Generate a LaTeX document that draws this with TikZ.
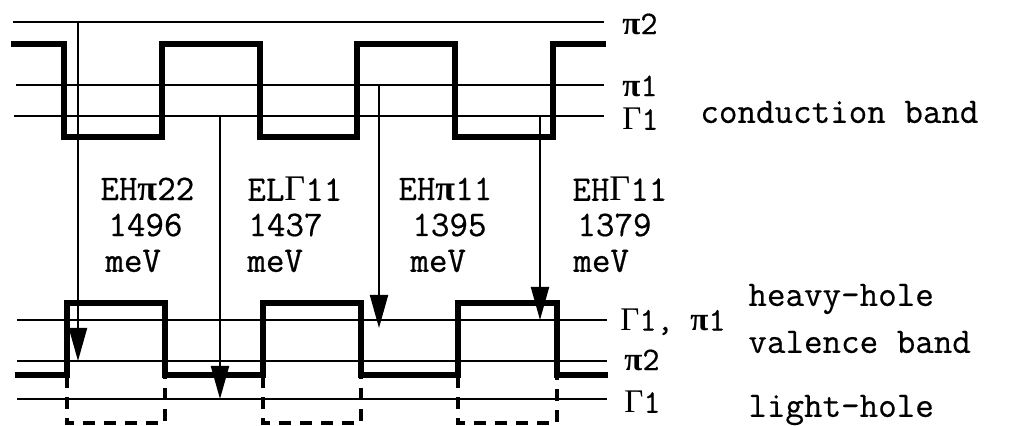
\documentclass[tikz,border=0pt]{standalone}
\usepackage{fontspec}
\newfontfamily\tw{Latin Modern Mono}[FakeBold=0.5]
\newfontfamily\grk{Liberation Serif}
\usetikzlibrary{arrows.meta}
\newcommand{\gpi}{{\grk\bfseries π}}
\newcommand{\gGa}{{\grk Γ}}
\begin{document}
\begin{tikzpicture}[x=0.5pt,y=-0.5pt,
  level/.style={line width=1pt},
  wave/.style={line width=2.6pt, line join=miter},
  lhwave/.style={line width=2.4pt, dash pattern=on 6pt off 4.5pt},
  trans/.style={line width=1pt, -{Triangle[length=16.5pt,width=9pt]}},
  lbl/.style={anchor=west, inner sep=0pt, font=\tw\fontsize{18}{18}\selectfont},
  lvl/.style={anchor=west, inner sep=0pt, font=\tw\fontsize{16.5}{16.5}\selectfont}]
\useasboundingbox (0,0) rectangle (1011,426);
\clip (0,0) rectangle (1011,426);
% conduction band levels
\draw[level] (13,22) -- (604,22);
\draw[level] (16,85) -- (604,85);
\draw[level] (14,116) -- (604,116);
% conduction band profile
\draw[wave] (11,44) -- (64,44) -- (64,137) -- (162,137) -- (162,44) -- (260,44) -- (260,137) -- (357,137) -- (357,44) -- (455,44) -- (455,137) -- (553,137) -- (553,44) -- (606,44);
% valence band levels
\draw[level] (17,320) -- (607,320);
\draw[level] (17,361) -- (607,361);
\draw[level] (17,399) -- (607,399);
% heavy-hole profile
\draw[wave] (15,375) -- (67,375) -- (67,303) -- (165,303) -- (165,375) -- (263,375) -- (263,303) -- (361,303) -- (361,375) -- (458,375) -- (458,303) -- (557,303) -- (557,375) -- (608,375);
% light-hole profile (dashed)
\foreach \a/\b in {67/165,263/361,458/557}{
  \draw[lhwave] (\a,376) -- (\a,423) -- (\b,423) -- (\b,376);
}
% transitions
\coordinate (t1s) at (78,22);   \coordinate (t1e) at (78,361);
\coordinate (t2s) at (220,116); \coordinate (t2e) at (220,399);
\coordinate (t3s) at (379,85);  \coordinate (t3e) at (379,328);
\coordinate (t4s) at (540,116); \coordinate (t4e) at (540,320);
\draw[trans] (t1s) -- (t1e);
\draw[trans] (t2s) -- (t2e);
\draw[trans] (t3s) -- (t3e);
\draw[trans] (t4s) -- (t4e);
% transition labels
\node[lbl] (n1a) at (100,189) {EH\gpi22};
\node[lbl] (n1b) at (108,225) {1496};
\node[lbl] (n1c) at (105,261) {meV};
\node[lbl] (n2a) at (247,189) {EL\gGa11};
\node[lbl] (n2b) at (248,225) {1437};
\node[lbl] (n2c) at (247,261) {meV};
\node[lbl] (n3a) at (398,189) {EH\gpi11};
\node[lbl] (n3b) at (412,225) {1395};
\node[lbl] (n3c) at (410,261) {meV};
\node[lbl] (n4a) at (572,189) {EH\gGa11};
\node[lbl] (n4b) at (577,225) {1379};
\node[lbl] (n4c) at (573,261) {meV};
% level labels
\node[lvl] (l1) at (622,24) {\gpi2};
\node[lvl] (l2) at (622,86) {\gpi1};
\node[lvl] (l3) at (622,119) {\gGa1};
\node[lvl] (l4) at (620,322) {\gGa1, \gpi1};
\node[lvl] (l5) at (624,360) {\gpi2};
\node[lvl] (l6) at (624,402) {\gGa1};
% band labels
\node[lbl] (b1) at (700,112) {conduction band};
\node[lbl] (b2) at (748,299) {heavy-hole};
\node[lbl] (b3) at (748,342) {valence band};
\node[lbl] (b4) at (748,410) {light-hole};
\end{tikzpicture}
\end{document}
